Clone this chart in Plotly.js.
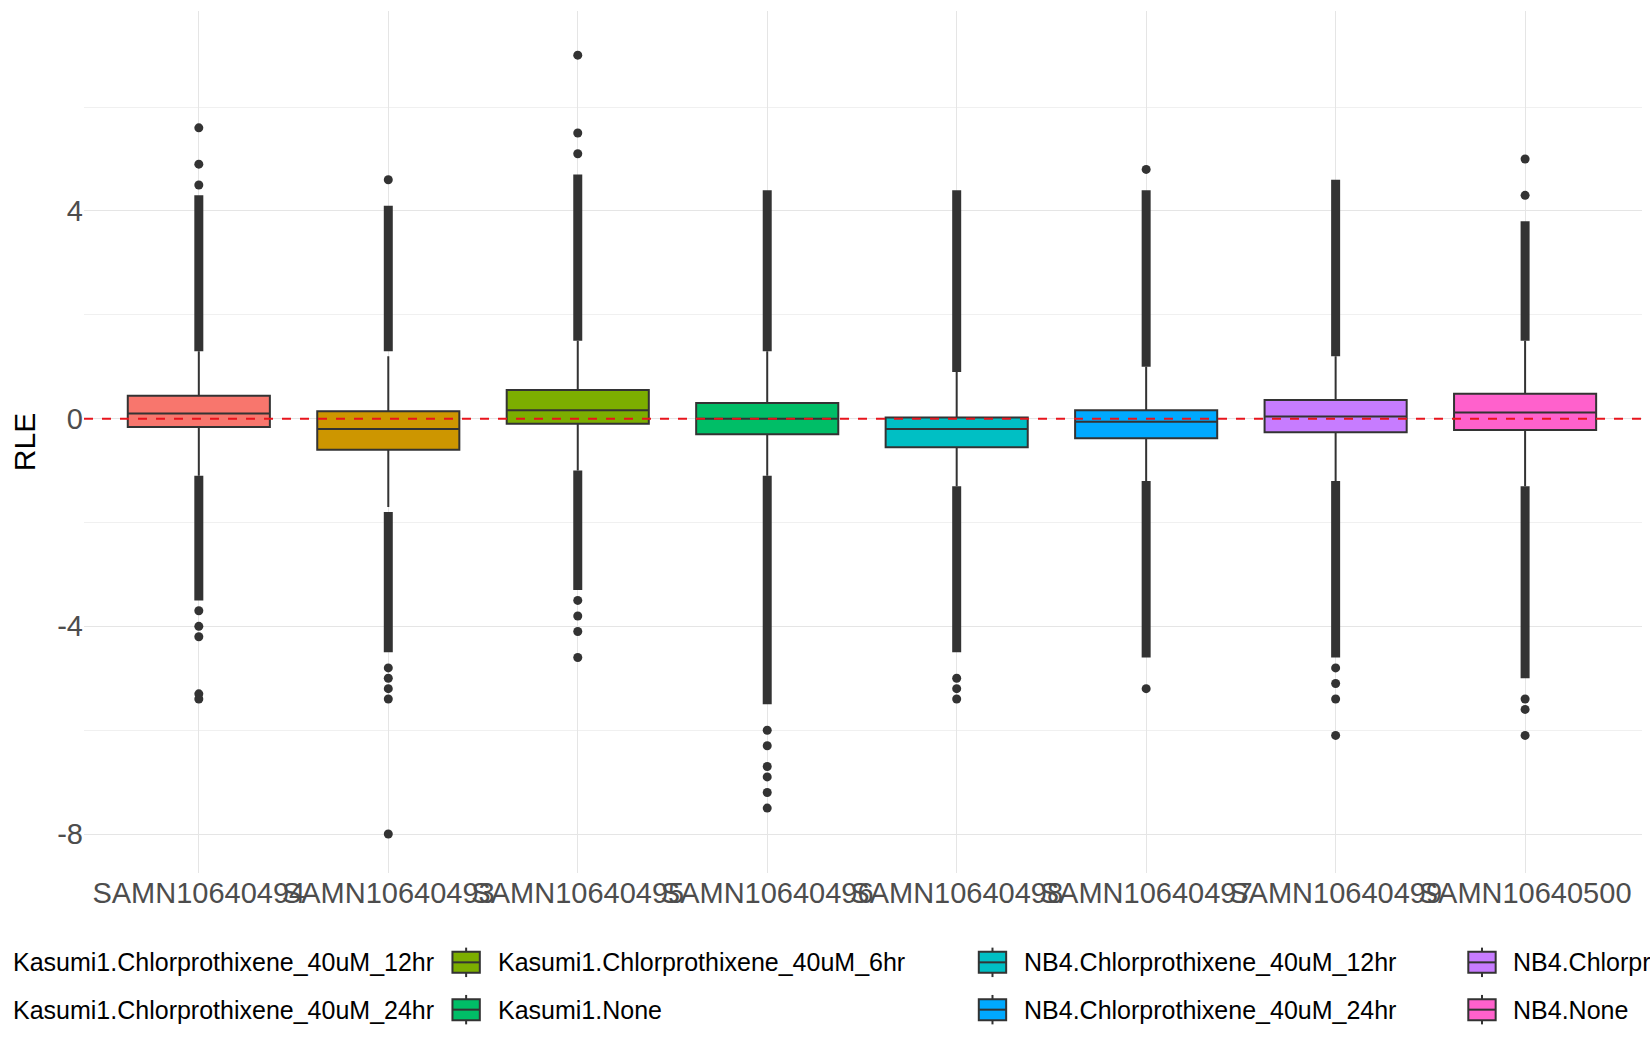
<!DOCTYPE html>
<html><head><meta charset="utf-8">
<script src="https://cdn.plot.ly/plotly-3.0.1.min.js"></script>
<style>body{margin:0;background:#fff}</style></head>
<body><div id="graph" style="width:1650px;height:1050px"></div>
<script>
var samples = ['SAMN10640494','SAMN10640493','SAMN10640495','SAMN10640496','SAMN10640498','SAMN10640497','SAMN10640499','SAMN10640500'];
var groups = ['Kasumi1.Chlorprothixene_40uM_12hr','Kasumi1.Chlorprothixene_40uM_24hr','Kasumi1.Chlorprothixene_40uM_6hr','Kasumi1.None',
              'NB4.Chlorprothixene_40uM_12hr','NB4.Chlorprothixene_40uM_24hr','NB4.Chlorprothixene_40uM_6hr','NB4.None'];
var colors = ['#F8766D','#CD9600','#7CAE00','#00BE67','#00BFC4','#00A9FF','#C77CFF','#FF61CC'];
var q1 = [-0.16,-0.6,-0.1,-0.3,-0.55,-0.38,-0.26,-0.22];
var med = [0.10,-0.2,0.16,0.0,-0.2,-0.06,0.04,0.12];
var q3 = [0.44,0.14,0.55,0.3,0.02,0.16,0.36,0.48];
var upFence = [1.3,1.2,1.5,1.3,0.9,1.0,1.2,1.5];
var loFence = [-1.1,-1.7,-1.0,-1.1,-1.3,-1.2,-1.2,-1.3];
// dense outlier runs [start, end]
var upDense = [[1.3,4.3],[1.3,4.1],[1.5,4.7],[1.3,4.4],[0.9,4.4],[1.0,4.4],[1.2,4.6],[1.5,3.8]];
var loDense = [[-1.1,-3.5],[-1.8,-4.5],[-1.0,-3.3],[-1.1,-5.5],[-1.3,-4.5],[-1.2,-4.6],[-1.2,-4.6],[-1.3,-5.0]];
// isolated outliers
var isolated = [
  [4.5,4.9,5.6,-3.7,-4.0,-4.2,-5.3,-5.4],
  [4.6,-4.8,-5.0,-5.2,-5.4,-8.0],
  [5.1,5.5,7.0,-3.5,-3.8,-4.1,-4.6],
  [-6.0,-6.3,-6.7,-6.9,-7.2,-7.5],
  [-5.0,-5.2,-5.4],
  [4.8,-5.2],
  [-4.8,-5.1,-5.4,-6.1],
  [4.3,5.0,-5.4,-5.6,-6.1]
];

var S = 1650/1568;
var L = 80*S, R = 1560*S, T = 10*S, B = 830*S;

var data = [];
for (var i = 0; i < samples.length; i++) {
  var s = samples[i];
  data.push({x:[s,s,null,s,s], y:[upDense[i][0],upDense[i][1],null,loDense[i][0],loDense[i][1]],
    type:'scatter', mode:'lines', line:{color:'#333333', width:9}, showlegend:false, hoverinfo:'skip'});
  data.push({x:isolated[i].map(function(){return s;}), y:isolated[i], type:'scatter', mode:'markers',
    marker:{color:'#333333', size:9}, showlegend:false});
  data.push({type:'box', x:[s], q1:[q1[i]], median:[med[i]], q3:[q3[i]],
    lowerfence:[loFence[i]], upperfence:[upFence[i]], width:0.75,
    fillcolor:colors[i], line:{color:'#333333', width:2}, whiskerwidth:0, showlegend:false});
}

function px(p){return (p*S-L)/(R-L);}
function py(p){return (B-p*S)/(B-T);}
var shapes = [{type:'line', xref:'paper', x0:0, x1:1, y0:0, y1:0, line:{color:'#e8141c', width:2, dash:'dash'}}];
var annotations = [];
var keyX = [-30, 430, 930, 1395];
var rows = [915, 960];
for (var g = 0; g < groups.length; g++) {
  var c = Math.floor(g/2), r = g%2;
  var kx = keyX[c], ky = rows[r];
  shapes.push({type:'rect', xref:'paper', yref:'paper', x0:px(kx), x1:px(kx+26), y0:py(ky+10), y1:py(ky-10),
    fillcolor:colors[g], line:{color:'#333333', width:2}});
  shapes.push({type:'line', xref:'paper', yref:'paper', x0:px(kx), x1:px(kx+26), y0:py(ky), y1:py(ky), line:{color:'#333333', width:2}});
  shapes.push({type:'line', xref:'paper', yref:'paper', x0:px(kx+13), x1:px(kx+13), y0:py(ky+14), y1:py(ky+10), line:{color:'#333333', width:2}});
  shapes.push({type:'line', xref:'paper', yref:'paper', x0:px(kx+13), x1:px(kx+13), y0:py(ky-10), y1:py(ky-14), line:{color:'#333333', width:2}});
  if (c === 0) {
    annotations.push({xref:'paper', yref:'paper', x:px(414), y:py(ky), xanchor:'right', yanchor:'middle', showarrow:false,
      text:groups[g], font:{size:25, color:'#000'}});
  } else {
    annotations.push({xref:'paper', yref:'paper', x:px(kx+41), y:py(ky), xanchor:'left', yanchor:'middle', showarrow:false,
      text:groups[g], font:{size:25, color:'#000'}});
  }
}

var layout = {
  width:1650, height:1050, margin:{l:L, r:1650-R, t:T, b:1050-B},
  paper_bgcolor:'#fff', plot_bgcolor:'#fff',
  font:{family:'Liberation Sans, Arial, sans-serif'},
  showlegend:false,
  xaxis:{type:'category', categoryorder:'array', categoryarray:samples, range:[-0.606, 7.617],
    showgrid:true, gridcolor:'#e5e5e5', zeroline:false, ticks:'', tickfont:{size:29, color:'#4d4d4d'}, tickangle:0},
  yaxis:{range:[-8.75, 7.85], tickvals:[-8,-4,0,4], ticktext:['-8','-4','0','4'], showgrid:true, gridcolor:'#e5e5e5',
    minor:{tickvals:[-6,-2,2,6], showgrid:true, gridcolor:'#f0f0f0'},
    zeroline:false, ticks:'', tickfont:{size:29, color:'#4d4d4d'},
    title:{text:'RLE', font:{size:30, color:'#000'}, standoff:12}},
  shapes:shapes, annotations:annotations
};
Plotly.newPlot('graph', data, layout, {displayModeBar:false});
</script></body></html>
